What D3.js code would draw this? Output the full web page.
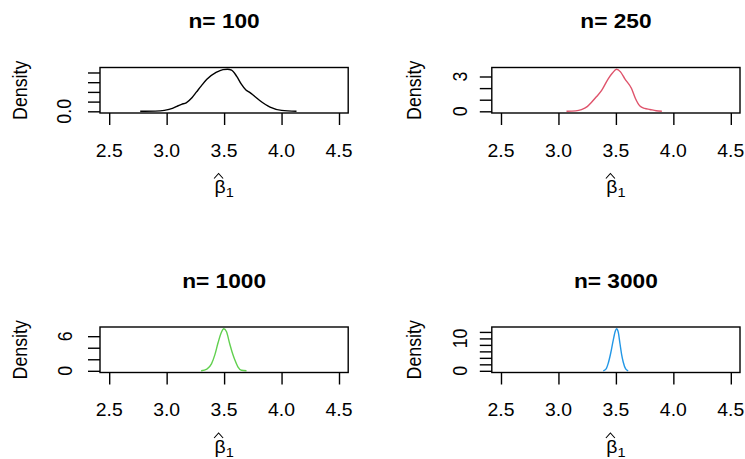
<!DOCTYPE html>
<html><head><meta charset="utf-8">
<script src="https://cdn.jsdelivr.net/npm/d3@7"></script>
<style>
html,body{margin:0;padding:0;background:#fff;}
svg{display:block;}
text{font-family:"Liberation Sans",Arial,Helvetica,sans-serif;fill:#000;}
</style></head>
<body>
<svg id="chart" width="745" height="459"></svg>
<script>
// ---------- data ----------
const panelTitles = ["n= 100", "n= 250", "n= 1000", "n= 3000"];
const seriesColors = ["#000000", "#DF536B", "#61D04F", "#2297E6"];
const xTicks = [2.5, 3.0, 3.5, 4.0, 4.5];
const xTickLabels = ["2.5", "3.0", "3.5", "4.0", "4.5"];
const xLimits = [2.5, 4.5];

const dens100X = [2.77, 2.9, 2.98, 3.05, 3.09, 3.13, 3.17, 3.22, 3.26, 3.3, 3.35, 3.43, 3.49, 3.53, 3.565, 3.61, 3.65, 3.69, 3.72, 3.76, 3.81, 3.86, 3.9, 4.0, 4.13];
const dens100Y = [0, 0.01, 0.05, 0.15, 0.26, 0.36, 0.44, 0.7, 1.0, 1.3, 1.65, 2.0, 2.15, 2.17, 2.12, 1.8, 1.4, 1.1, 0.99, 0.8, 0.56, 0.35, 0.22, 0.05, 0];
const dens250X = [3.07, 3.15, 3.2, 3.25, 3.29, 3.33, 3.376, 3.433, 3.47, 3.506, 3.54, 3.578, 3.636, 3.67, 3.709, 3.75, 3.796, 3.85, 3.9];
const dens250Y = [0, 0.04, 0.15, 0.4, 0.8, 1.25, 1.8, 2.8, 3.3, 3.63, 3.4, 2.8, 1.96, 1.1, 0.45, 0.25, 0.16, 0.05, 0];
const dens1000X = [3.3, 3.35, 3.39, 3.42, 3.448, 3.475, 3.497, 3.52, 3.55, 3.575, 3.593, 3.62, 3.651, 3.695];
const dens1000Y = [0, 0.3, 1.2, 2.8, 4.9, 6.6, 7.3, 6.8, 4.6, 2.9, 1.9, 0.7, 0.1, 0];
const dens3000X = [3.39, 3.415, 3.433, 3.455, 3.477, 3.495, 3.506, 3.52, 3.535, 3.55, 3.563, 3.585, 3.607];
const dens3000Y = [0, 0.6, 2.3, 5.5, 9.5, 12.3, 13.0, 12.0, 8.5, 5.0, 2.8, 0.6, 0];

const yTicks100 = [0, 0.5, 1, 1.5, 2];
const yTickLabels100 = ["0.0", "", "", "", ""];
const yTicks250 = [0, 1, 2, 3];
const yTickLabels250 = ["0", "", "", "3"];
const yTicks1000 = [0, 2, 4, 6];
const yTickLabels1000 = ["0", "", "", "6"];
const yTicks3000 = [0, 2, 4, 6, 8, 10, 12];
const yTickLabels3000 = ["0", "", "", "", "", "10", ""];

const yLabel = "Density";

// ---------- layout ----------
const SX = 1.09;          // horizontal stretch of the reference image
const FS = 17.8;          // base font size
const panels = [
  {title: panelTitles[0], color: seriesColors[0], xs: dens100X, ys: dens100Y, yt: yTicks100, yl: yTickLabels100, left: 100, top: 67.5, ylabX: 71, densX: 27},
  {title: panelTitles[1], color: seriesColors[1], xs: dens250X, ys: dens250Y, yt: yTicks250, yl: yTickLabels250, left: 491.8, top: 67.5, ylabX: 467.3, densX: 420.5},
  {title: panelTitles[2], color: seriesColors[2], xs: dens1000X, ys: dens1000Y, yt: yTicks1000, yl: yTickLabels1000, left: 100, top: 327, ylabX: 71.7, densX: 27},
  {title: panelTitles[3], color: seriesColors[3], xs: dens3000X, ys: dens3000Y, yt: yTicks3000, yl: yTickLabels3000, left: 491.8, top: 327, ylabX: 467, densX: 420.5}
];
const PW = 248.2, PH = 45.5, TICK = 12;

const svg = d3.select("#chart");

function addText(g, x, y, str, opt) {
  opt = opt || {};
  const t = g.append("text")
    .attr("transform", `translate(${x},${y}) scale(${SX},1)` + (opt.rot ? ` rotate(${opt.rot})` : ""))
    .attr("text-anchor", opt.anchor || "middle")
    .attr("font-size", opt.size || FS)
    .attr("font-weight", opt.bold ? "bold" : "normal")
    .text(str);
  return t;
}

panels.forEach(p => {
  const g = svg.append("g");
  const right = p.left + PW, bottom = p.top + PH;
  const pad = 0.04 * (xLimits[1] - xLimits[0]);
  const x = d3.scaleLinear().domain([xLimits[0] - pad, xLimits[1] + pad]).range([p.left, right]);
  const M = d3.max(p.ys);
  const y = d3.scaleLinear().domain([-0.04 * M, 1.04 * M]).range([bottom, p.top]);

  // density curve
  const pts = p.xs.map((v, i) => [v, p.ys[i]]);
  g.append("path")
    .datum(pts)
    .attr("fill", "none")
    .attr("stroke", p.color)
    .attr("stroke-width", 1.4)
    .attr("d", d3.line().x(d => x(d[0])).y(d => y(d[1])).curve(d3.curveMonotoneX));

  // box
  g.append("rect").attr("x", p.left).attr("y", p.top).attr("width", PW).attr("height", PH)
    .attr("fill", "none").attr("stroke", "#000").attr("stroke-width", 1.4);

  // x axis
  const xa = g.append("g").attr("transform", `translate(0,${bottom})`)
    .call(d3.axisBottom(x).tickValues(xTicks).tickSize(TICK).tickFormat(""));
  xa.select(".domain").remove();
  xa.selectAll("line").attr("stroke", "#000").attr("stroke-width", 1.4);
  xTicks.forEach((v, i) => addText(g, x(v), p.top + 89, xTickLabels[i]));

  // y axis
  const ya = g.append("g").attr("transform", `translate(${p.left},0)`)
    .call(d3.axisLeft(y).tickValues(p.yt).tickSize(TICK).tickFormat(""));
  ya.select(".domain").remove();
  ya.selectAll("line").attr("stroke", "#000").attr("stroke-width", 1.4);
  p.yt.forEach((v, i) => {
    if (p.yl[i]) addText(g, p.ylabX, y(v), p.yl[i], {rot: -90});
  });

  // axis titles
  addText(g, p.densX, (p.top + bottom) / 2, yLabel, {rot: -90});
  const cx = (p.left + right) / 2;
  // beta-hat with subscript 1
  const bt = g.append("text")
    .attr("transform", `translate(${cx},${p.top + 125.5}) scale(${SX},1)`)
    .attr("text-anchor", "middle").attr("font-size", FS);
  bt.append("tspan").text("β");
  bt.append("tspan").attr("font-size", FS * 0.75).attr("dy", 4).text("1");
  // hat
  const hx = cx - 5.5;
  const hy = p.top + 106;
  g.append("path")
    .attr("d", `M${hx - 4.5},${hy + 5}L${hx},${hy}L${hx + 4.5},${hy + 5}`)
    .attr("fill", "none").attr("stroke", "#000").attr("stroke-width", 1.1);

  // title
  addText(g, cx, p.top - 39.5, p.title, {bold: true, size: FS * 1.17});
});
</script>
</body></html>
